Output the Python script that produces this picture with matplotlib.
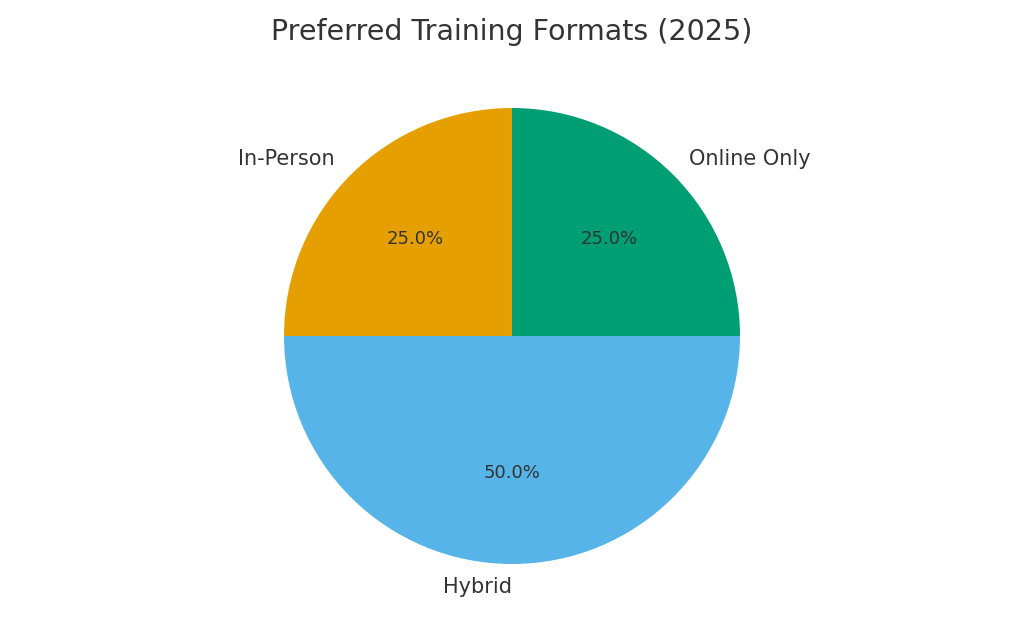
import matplotlib.pyplot as plt

labels = ['Online Only', 'In-Person', 'Hybrid']
shares = [25, 25, 50]
colors = ['#009E73', '#E69F00', '#56B4E9']

fig = plt.figure(figsize=(10.24, 6.4), dpi=100)
ax = fig.add_axes([(512 - 285) / 1024, 19 / 640, 570 / 1024, 570 / 640])

wedges, texts, autotexts = ax.pie(shares, labels=labels, colors=colors,
                                  autopct='%1.1f%%', startangle=0,
                                  textprops={'color': '#333333', 'fontsize': 15})
for t in autotexts:
    t.set_fontsize(13)
# Hybrid label sits just left of centre in the reference
texts[2].set_ha('right')
ax.set_aspect('equal')

fig.text(0.5, 1 - 32 / 640, 'Preferred Training Formats (2025)', ha='center', va='center',
         fontsize=20.5, color='#333333')

fig.savefig('out.png', dpi=100)
